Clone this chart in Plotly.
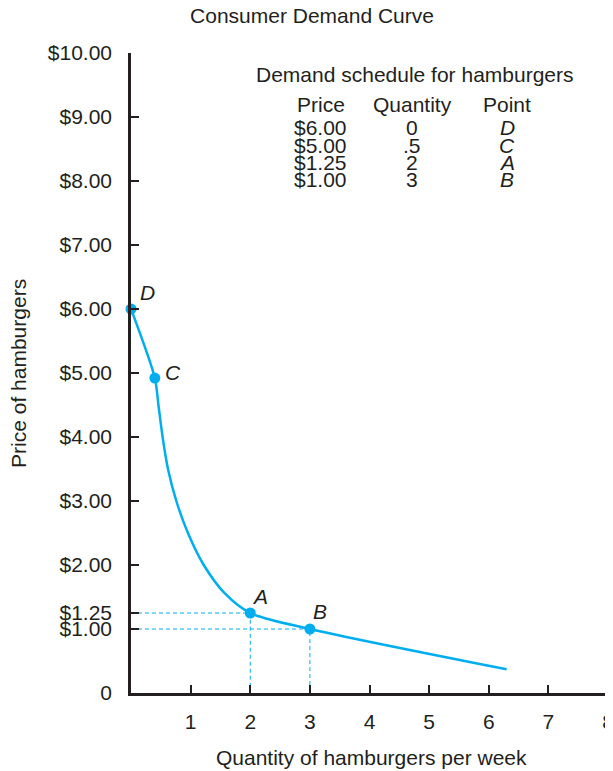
import plotly.graph_objects as go

# demand curve
curve_q = [0, 0.40, 0.46, 0.53, 0.62, 0.76, 0.955, 1.22, 1.57, 2.0, 3.0, 6.3]
curve_p = [6.0, 4.92, 4.5, 4.0, 3.5, 3.0, 2.5, 2.0, 1.56, 1.25, 1.0, 0.37]

# labelled points on the curve (as plotted)
point_names = ["D", "C", "A", "B"]
point_q = [0, 0.40, 2, 3]
point_p = [6.0, 4.92, 1.25, 1.0]

# demand schedule table
table_price = ["$6.00", "$5.00", "$1.25", "$1.00"]
table_qty = ["0", ".5", "2", "3"]
table_point = ["D", "C", "A", "B"]

y_ticks = [0, 1, 1.25, 2, 3, 4, 5, 6, 7, 8, 9, 10]
y_labels = ["0", "$1.00", "$1.25", "$2.00", "$3.00", "$4.00", "$5.00",
            "$6.00", "$7.00", "$8.00", "$9.00", "$10.00"]
x_ticks = [1, 2, 3, 4, 5, 6, 7, 8]

BLUE = "#00aeef"
INK = "#231f20"
FONT = "Liberation Sans, Arial, sans-serif"
FS = 21

fig = go.Figure()

# dashed guides for A and B
for q, p in zip(point_q[2:], point_p[2:]):
    fig.add_trace(go.Scatter(x=[0, q, q], y=[p, p, 0], mode="lines",
                             line=dict(color=BLUE, width=1, dash="4px,3px"),
                             hoverinfo="skip", showlegend=False))

fig.add_trace(go.Scatter(x=curve_q, y=curve_p, mode="lines",
                         line=dict(color=BLUE, width=2.5, shape="spline", smoothing=0.8),
                         showlegend=False))
fig.add_trace(go.Scatter(x=point_q, y=point_p, mode="markers",
                         marker=dict(color=BLUE, size=11), cliponaxis=False,
                         showlegend=False))

shifts = {"D": (7, 17), "C": (8, 6), "A": (0, 17), "B": (1, 18)}
for name, q, p in zip(point_names, point_q, point_p):
    dx, dy = shifts[name]
    fig.add_annotation(x=q, y=p, text="<i>%s</i>" % name, showarrow=False,
                       xanchor="left", xshift=dx, yshift=dy,
                       font=dict(size=FS, color=INK, family=FONT))

# table
fig.add_annotation(x=4.76, y=9.66, text="Demand schedule for hamburgers", showarrow=False,
                   font=dict(size=FS, color=INK, family=FONT))
cols = [3.18, 4.72, 6.31]
headers = ["Price", "Quantity", "Point"]
for cx, h in zip(cols, headers):
    fig.add_annotation(x=cx, y=9.19, text=h, showarrow=False,
                       font=dict(size=FS, color=INK, family=FONT))
row_y = [8.84, 8.56, 8.29, 8.02]
for ry, pr, qt, pt in zip(row_y, table_price, table_qty, table_point):
    for cx, t in zip(cols, [pr, qt, "<i>%s</i>" % pt]):
        fig.add_annotation(x=cx, y=ry, text=t, showarrow=False,
                           font=dict(size=FS, color=INK, family=FONT))

# axis titles
fig.add_annotation(xref="paper", yref="paper", x=-0.237, y=0.5, textangle=-90,
                   xanchor="center", yanchor="middle",
                   text="Price of hamburgers", showarrow=False,
                   font=dict(size=FS, color=INK, family=FONT))
fig.add_annotation(xref="paper", yref="paper", x=0.505, y=-0.1,
                   xanchor="center", yanchor="middle",
                   text="Quantity of hamburgers per week", showarrow=False,
                   font=dict(size=FS, color=INK, family=FONT))

# page body adds an 8px margin, so the figure is made 8px smaller and shifted
fig.update_layout(
    width=605, height=763,
    margin=dict(l=123, r=5, t=45, b=78),
    paper_bgcolor="white", plot_bgcolor="white",
    font=dict(family=FONT, size=FS, color=INK),
    title=dict(text="Consumer Demand Curve", x=0.5025, xanchor="center", y=0.9895,
               yanchor="middle", font=dict(size=FS, color=INK, family=FONT)),
    xaxis=dict(range=[0, 8], tickvals=x_ticks, ticks="inside", ticklen=8,
               tickwidth=1.5, tickcolor=INK, showgrid=False, zeroline=False,
               showline=True, linecolor=INK, linewidth=2.5, automargin=False,
               ticklabelstandoff=8, ticklabeloverflow="allow"),
    yaxis=dict(range=[0, 10], tickvals=y_ticks, ticktext=y_labels, ticks="inside",
               ticklen=8, tickwidth=1.5, tickcolor=INK, showgrid=False, zeroline=False,
               showline=True, linecolor=INK, linewidth=2.5, ticklabelstandoff=12,
               automargin=False),
)

fig.write_html("out.html")
